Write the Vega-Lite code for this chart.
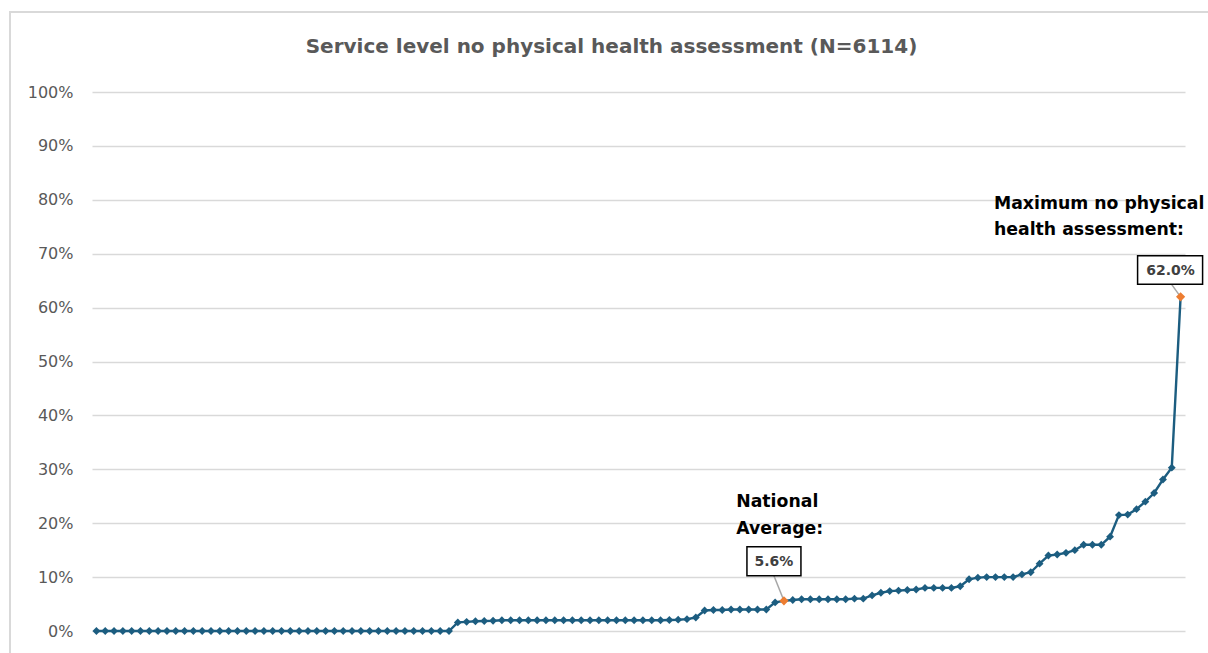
{
  "$schema": "https://vega.github.io/schema/vega-lite/v6.json",
  "autosize": {"type": "none"},
  "width": 1093,
  "height": 539,
  "padding": {"left": 92, "top": 92, "right": 23, "bottom": 22},
  "background": "white",
  "config": {"view": {"stroke": null}},
  "title": {
    "text": "Service level no physical health assessment (N=6114)",
    "font": "DejaVu Sans",
    "fontSize": 20,
    "fontWeight": "bold",
    "color": "#595959",
    "anchor": "middle",
    "frame": "group",
    "baseline": "alphabetic",
    "dx": -27,
    "dy": 62,
    "offset": 0
  },
  "data": {"values": [
    {"i":0,"v":0},{"i":1,"v":0},{"i":2,"v":0},{"i":3,"v":0},{"i":4,"v":0},{"i":5,"v":0},{"i":6,"v":0},{"i":7,"v":0},{"i":8,"v":0},{"i":9,"v":0},
    {"i":10,"v":0},{"i":11,"v":0},{"i":12,"v":0},{"i":13,"v":0},{"i":14,"v":0},{"i":15,"v":0},{"i":16,"v":0},{"i":17,"v":0},{"i":18,"v":0},{"i":19,"v":0},
    {"i":20,"v":0},{"i":21,"v":0},{"i":22,"v":0},{"i":23,"v":0},{"i":24,"v":0},{"i":25,"v":0},{"i":26,"v":0},{"i":27,"v":0},{"i":28,"v":0},{"i":29,"v":0},
    {"i":30,"v":0},{"i":31,"v":0},{"i":32,"v":0},{"i":33,"v":0},{"i":34,"v":0},{"i":35,"v":0},{"i":36,"v":0},{"i":37,"v":0},{"i":38,"v":0},{"i":39,"v":0},
    {"i":40,"v":0},{"i":41,"v":0.016},{"i":42,"v":0.017},{"i":43,"v":0.018},{"i":44,"v":0.0185},{"i":45,"v":0.019},{"i":46,"v":0.02},{"i":47,"v":0.02},{"i":48,"v":0.02},{"i":49,"v":0.02},
    {"i":50,"v":0.02},{"i":51,"v":0.02},{"i":52,"v":0.02},{"i":53,"v":0.02},{"i":54,"v":0.02},{"i":55,"v":0.02},{"i":56,"v":0.02},{"i":57,"v":0.02},{"i":58,"v":0.02},{"i":59,"v":0.02},
    {"i":60,"v":0.02},{"i":61,"v":0.02},{"i":62,"v":0.02},{"i":63,"v":0.02},{"i":64,"v":0.02},{"i":65,"v":0.0205},{"i":66,"v":0.021},{"i":67,"v":0.022},{"i":68,"v":0.025},{"i":69,"v":0.038},
    {"i":70,"v":0.039},{"i":71,"v":0.039},{"i":72,"v":0.04},{"i":73,"v":0.04},{"i":74,"v":0.04},{"i":75,"v":0.04},{"i":76,"v":0.04},{"i":77,"v":0.053},{"i":78,"v":0.056,"hl":"avg"},{"i":79,"v":0.0575},
    {"i":80,"v":0.059},{"i":81,"v":0.059},{"i":82,"v":0.059},{"i":83,"v":0.059},{"i":84,"v":0.059},{"i":85,"v":0.059},{"i":86,"v":0.06},{"i":87,"v":0.06},{"i":88,"v":0.066},{"i":89,"v":0.071},
    {"i":90,"v":0.074},{"i":91,"v":0.075},{"i":92,"v":0.076},{"i":93,"v":0.077},{"i":94,"v":0.08},{"i":95,"v":0.08},{"i":96,"v":0.08},{"i":97,"v":0.08},{"i":98,"v":0.083},{"i":99,"v":0.096},
    {"i":100,"v":0.099},{"i":101,"v":0.1},{"i":102,"v":0.1},{"i":103,"v":0.1},{"i":104,"v":0.1},{"i":105,"v":0.105},{"i":106,"v":0.109},{"i":107,"v":0.125},{"i":108,"v":0.14},{"i":109,"v":0.142},
    {"i":110,"v":0.145},{"i":111,"v":0.15},{"i":112,"v":0.16},{"i":113,"v":0.16},{"i":114,"v":0.16},{"i":115,"v":0.175},{"i":116,"v":0.215},{"i":117,"v":0.216},{"i":118,"v":0.226},{"i":119,"v":0.24},
    {"i":120,"v":0.256},{"i":121,"v":0.281},{"i":122,"v":0.303},{"i":123,"v":0.62,"hl":"max"}
  ]},
  "encoding": {
    "x": {"field": "i", "type": "quantitative", "scale": {"domain": [-0.5, 123.5], "nice": false, "zero": false}, "axis": null},
    "y": {"field": "v", "type": "quantitative", "scale": {"domain": [0, 1], "nice": false},
      "axis": {"title": null, "values": [0,0.1,0.2,0.3,0.4,0.5,0.6,0.7,0.8,0.9,1], "format": ".0%", "grid": true, "gridColor": "#d9d9d9", "gridWidth": 1.5,
        "domain": false, "ticks": false, "labelFont": "DejaVu Sans", "labelFontSize": 16, "labelColor": "#595959", "labelPadding": 19}}
  },
  "layer": [
    {
      "mark": {"type": "rect", "fill": null, "stroke": "#d9d9d9", "strokeWidth": 1.5, "clip": false},
      "encoding": {
        "x": {"datum": -9.8, "type": "quantitative"},
        "x2": {"datum": 200},
        "y": {"datum": 1.1484, "type": "quantitative"},
        "y2": {"datum": -0.2}
      }
    },
    {
      "transform": [{"filter": "datum.hl == 'avg'"}],
      "mark": {"type": "rule", "color": "#a6a6a6", "strokeWidth": 1.5, "x2Offset": -10, "y2Offset": -25},
      "encoding": {"x2": {"field": "i"}, "y2": {"field": "v"}}
    },
    {
      "transform": [{"filter": "datum.hl == 'max'"}],
      "mark": {"type": "rule", "color": "#a6a6a6", "strokeWidth": 1.5, "x2Offset": -9, "y2Offset": -12.5},
      "encoding": {"x2": {"field": "i"}, "y2": {"field": "v"}}
    },
    {
      "mark": {"type": "line", "color": "#1C5D80", "strokeWidth": 2.4}
    },
    {
      "mark": {"type": "point", "shape": "diamond", "filled": true, "opacity": 1},
      "encoding": {
        "color": {"condition": {"test": "datum.hl", "value": "#ED7D31"}, "value": "#1C5D80"},
        "size": {"condition": {"test": "datum.hl", "value": 85}, "value": 62}
      }
    },
    {
      "transform": [{"filter": "datum.hl == 'avg'"}],
      "mark": {"type": "rect", "fill": "white", "stroke": "black", "strokeWidth": 1.5, "xOffset": -37, "x2Offset": 17, "yOffset": -54, "y2Offset": -25},
      "encoding": {"x2": {"field": "i"}, "y2": {"field": "v"}}
    },
    {
      "transform": [{"filter": "datum.hl == 'max'"}],
      "mark": {"type": "rect", "fill": "white", "stroke": "black", "strokeWidth": 1.5, "xOffset": -43, "x2Offset": 22, "yOffset": -41, "y2Offset": -12.5},
      "encoding": {"x2": {"field": "i"}, "y2": {"field": "v"}}
    },
    {
      "transform": [{"filter": "datum.hl == 'avg'"}],
      "mark": {"type": "text", "font": "DejaVu Sans", "fontWeight": "bold", "fontSize": 14, "color": "#404040", "align": "center", "baseline": "middle", "dx": -10, "dy": -39},
      "encoding": {"text": {"field": "v", "format": ".1%"}}
    },
    {
      "transform": [{"filter": "datum.hl == 'max'"}],
      "mark": {"type": "text", "font": "DejaVu Sans", "fontWeight": "bold", "fontSize": 14, "color": "#404040", "align": "center", "baseline": "middle", "dx": -10, "dy": -26},
      "encoding": {"text": {"field": "v", "format": ".1%"}}
    },
    {
      "transform": [{"filter": "datum.hl == 'avg'"}],
      "mark": {"type": "text", "font": "DejaVu Sans", "fontWeight": "bold", "fontSize": 17.3, "color": "black", "align": "left", "baseline": "alphabetic", "lineBreak": "\n", "lineHeight": 27, "dx": -47.7, "dy": -93.4},
      "encoding": {"text": {"value": "National\nAverage:"}}
    },
    {
      "transform": [{"filter": "datum.hl == 'max'"}],
      "mark": {"type": "text", "font": "DejaVu Sans", "fontWeight": "bold", "fontSize": 17.3, "color": "black", "align": "left", "baseline": "alphabetic", "lineBreak": "\n", "lineHeight": 26, "dx": -186.6, "dy": -87.5},
      "encoding": {"text": {"value": "Maximum no physical\nhealth assessment:"}}
    }
  ]
}
